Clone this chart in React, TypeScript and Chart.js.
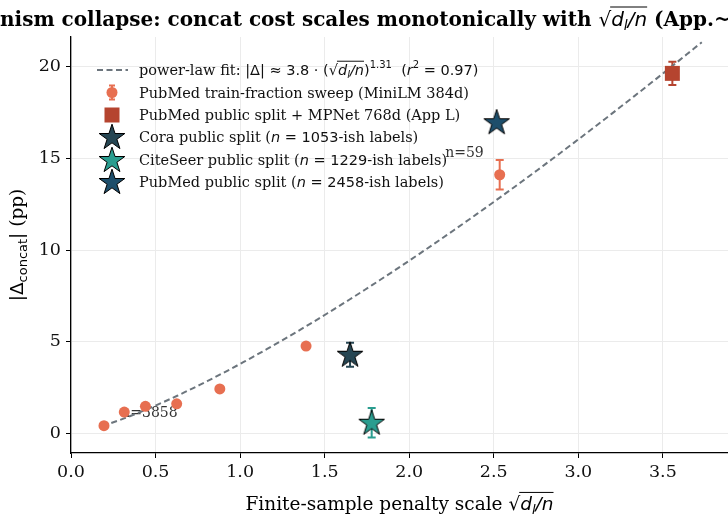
import React, { useEffect, useRef } from "react";
import { Chart, registerables } from "chart.js";
Chart.register(...registerables);

// ---- data ----
const sweepX = [0.195, 0.315, 0.44, 0.625, 0.88, 1.39, 2.535];
const sweepY = [0.44, 1.18, 1.49, 1.63, 2.44, 4.77, 14.1];
const sweepErr = [0, 0, 0, 0, 0, 0, 0.8];
const sweepLabels = ["", "n=3858", "", "", "", "", "n=59"];

const mpnetX = [3.556];
const mpnetY = [19.62];
const mpnetErr = [0.63];

const coraX = [1.65];
const coraY = [4.3];
const coraErr = [0.65];

const citeX = [1.778];
const citeY = [0.6];
const citeErr = [0.8];

const pubX = [2.517];
const pubY = [16.96];
const pubErr = [0];

const FIT_A = 3.8;
const FIT_B = 1.31;
const FIT_R2 = 0.97;
const fitRange = [0.185, 3.73];

const xTicks = [0, 0.5, 1, 1.5, 2, 2.5, 3, 3.5];
const yTicks = [0, 5, 10, 15, 20];

const C_SWEEP = "#e76f51";
const C_MPNET = "#b5442f";
const C_CORA = "#264653";
const C_CITE = "#2a9d8f";
const C_PUB = "#1d4e6b";
const C_FIT = "#6c757d";

const SERIF = '"DejaVu Serif", serif';
const SANS = '"DejaVu Sans", sans-serif';

function makeStar(color: string, size: number) {
  const c = document.createElement("canvas");
  c.width = size;
  c.height = size;
  const g = c.getContext("2d")!;
  const R = size / 2 - 1.5;
  const r = R * 0.382;
  const cx = size / 2;
  const cy = size / 2 + R * 0.05;
  g.beginPath();
  for (let i = 0; i < 10; i++) {
    const rad = i % 2 === 0 ? R : r;
    const a = -Math.PI / 2 + (i * Math.PI) / 5;
    const px = cx + rad * Math.cos(a);
    const py = cy + rad * Math.sin(a);
    if (i === 0) g.moveTo(px, py);
    else g.lineTo(px, py);
  }
  g.closePath();
  g.fillStyle = color;
  g.fill();
  g.lineWidth = 1;
  g.strokeStyle = "#000";
  g.stroke();
  return c;
}

type Seg = { t: string; f: string; dy?: number; ol?: boolean };

function richWidth(ctx: CanvasRenderingContext2D, segs: Seg[]) {
  let w = 0;
  for (const s of segs) {
    ctx.font = s.f;
    w += ctx.measureText(s.t).width;
  }
  return w;
}

function drawRich(
  ctx: CanvasRenderingContext2D,
  segs: Seg[],
  x: number,
  y: number,
  align: "left" | "center",
  olY: number
) {
  const total = richWidth(ctx, segs);
  let cx = align === "center" ? x - total / 2 : x;
  ctx.textAlign = "left";
  ctx.textBaseline = "alphabetic";
  let olStart: number | null = null;
  const flush = (end: number) => {
    ctx.save();
    ctx.lineWidth = 1;
    ctx.strokeStyle = ctx.fillStyle as string;
    ctx.beginPath();
    ctx.moveTo(olStart as number, y - olY);
    ctx.lineTo(end, y - olY);
    ctx.stroke();
    ctx.restore();
    olStart = null;
  };
  for (const s of segs) {
    ctx.font = s.f;
    const w = ctx.measureText(s.t).width;
    ctx.fillText(s.t, cx, y + (s.dy || 0));
    if (s.ol) {
      if (olStart === null) olStart = cx - 1;
    } else if (olStart !== null) {
      flush(cx);
    }
    cx += w;
  }
  if (olStart !== null) flush(cx);
}

function sqrtSegs(size: number): Seg[] {
  const it = `italic ${size}px ${SANS}`;
  const sub = `italic ${Math.round(size * 0.7)}px ${SANS}`;
  return [
    { t: "\u221A", f: `${size}px ${SANS}` },
    { t: "d", f: it, ol: true },
    { t: "l", f: sub, dy: size * 0.2, ol: true },
    { t: "/n", f: it, ol: true },
  ];
}

export default function App() {
  const ref = useRef<HTMLCanvasElement | null>(null);

  useEffect(() => {
    document.body.style.margin = "0";
    const canvas = ref.current!;
    const starCora = makeStar(C_CORA, 30);
    const starCite = makeStar(C_CITE, 30);
    const starPub = makeStar(C_PUB, 30);

    const fitData: { x: number; y: number }[] = [];
    const NF = 80;
    for (let i = 0; i <= NF; i++) {
      const x = fitRange[0] + ((fitRange[1] - fitRange[0]) * i) / NF;
      fitData.push({ x, y: FIT_A * Math.pow(x, FIT_B) });
    }
    const toPts = (xs: number[], ys: number[]) => xs.map((x, i) => ({ x, y: ys[i] }));

    const errGroups = [
      { xs: sweepX, ys: sweepY, es: sweepErr, c: C_SWEEP },
      { xs: mpnetX, ys: mpnetY, es: mpnetErr, c: C_MPNET },
      { xs: coraX, ys: coraY, es: coraErr, c: C_CORA },
      { xs: citeX, ys: citeY, es: citeErr, c: C_CITE },
      { xs: pubX, ys: pubY, es: pubErr, c: C_PUB },
    ];

    const overlay = {
      id: "overlay",
      beforeDatasetsDraw(chart: any) {
        const ctx: CanvasRenderingContext2D = chart.ctx;
        const xs = chart.scales.x;
        const ys = chart.scales.y;
        ctx.save();
        // annotations
        ctx.fillStyle = "#333";
        ctx.font = `14px ${SERIF}`;
        ctx.textBaseline = "alphabetic";
        sweepLabels.forEach((lab, i) => {
          if (!lab) return;
          const px = xs.getPixelForValue(sweepX[i]);
          const py = ys.getPixelForValue(sweepY[i]);
          if (sweepY[i] > 10) {
            ctx.textAlign = "right";
            ctx.fillText(lab, px - 16, py - 18);
          } else {
            ctx.textAlign = "left";
            ctx.fillText(lab, px - 3, py + 5);
          }
        });
        // error bars
        ctx.lineWidth = 2;
        for (const g of errGroups) {
          ctx.strokeStyle = g.c;
          g.xs.forEach((x, i) => {
            const e = g.es[i];
            if (!e) return;
            const px = xs.getPixelForValue(x);
            const y1 = ys.getPixelForValue(g.ys[i] + e);
            const y2 = ys.getPixelForValue(g.ys[i] - e);
            ctx.beginPath();
            ctx.moveTo(px, y1);
            ctx.lineTo(px, y2);
            ctx.moveTo(px - 4, y1);
            ctx.lineTo(px + 4, y1);
            ctx.moveTo(px - 4, y2);
            ctx.lineTo(px + 4, y2);
            ctx.stroke();
          });
        }
        ctx.restore();
      },
      afterDraw(chart: any) {
        const ctx: CanvasRenderingContext2D = chart.ctx;
        const area = chart.chartArea;
        ctx.save();
        ctx.fillStyle = "#000";
        // title
        const tsize = 20;
        const bold = `bold ${tsize}px ${SERIF}`;
        const titleSegs: Seg[] = [
          { t: "Mechanism collapse: concat cost scales monotonically with ", f: bold },
          ...sqrtSegs(tsize),
          { t: " (App.~", f: bold },
        ];
        ctx.font = bold;
        const pre = ctx.measureText("Mecha").width;
        drawRich(ctx, titleSegs, -pre, 26, "left", tsize * 0.95);

        // x title
        const lsize = 18.5;
        const xSegs: Seg[] = [
          { t: "Finite-sample penalty scale ", f: `${lsize}px ${SERIF}` },
          ...sqrtSegs(lsize),
        ];
        drawRich(ctx, xSegs, (area.left + area.right) / 2, 510, "center", lsize * 0.95);

        // y title
        ctx.save();
        ctx.translate(23, (area.top + area.bottom) / 2);
        ctx.rotate(-Math.PI / 2);
        const ySegs: Seg[] = [
          { t: "|\u0394", f: `${lsize}px ${SANS}` },
          { t: "concat", f: `${Math.round(lsize * 0.7)}px ${SANS}`, dy: lsize * 0.2 },
          { t: "|", f: `${lsize}px ${SANS}` },
          { t: " (pp)", f: `${lsize}px ${SERIF}` },
        ];
        drawRich(ctx, ySegs, 0, 0, "center", 0);
        ctx.restore();

        // legend
        const fs = 14.5;
        const serif = `${fs}px ${SERIF}`;
        const sans = `${fs}px ${SANS}`;
        const isans = `italic ${fs}px ${SANS}`;
        const small = `${Math.round(fs * 0.7)}px ${SANS}`;
        const tx = 139;
        const mx = 112;
        const rows = [70, 92.5, 115, 137, 160, 182];
        const legendText: Seg[][] = [
          [
            { t: "power-law fit: ", f: serif },
            { t: `|\u0394| \u2248 ${FIT_A.toFixed(1)} \u00B7 (`, f: sans },
            ...sqrtSegs(fs),
            { t: ")", f: sans },
            { t: FIT_B.toFixed(2), f: small, dy: -fs * 0.45 },
            { t: "  (", f: sans },
            { t: "r", f: isans },
            { t: "2", f: small, dy: -fs * 0.45 },
            { t: ` = ${FIT_R2.toFixed(2)})`, f: sans },
          ],
          [{ t: "PubMed train-fraction sweep (MiniLM 384d)", f: serif }],
          [{ t: "PubMed public split + MPNet 768d (App L)", f: serif }],
          [
            { t: "Cora public split (", f: serif },
            { t: "n", f: isans },
            { t: " = 1053", f: sans },
            { t: "-ish labels)", f: serif },
          ],
          [
            { t: "CiteSeer public split (", f: serif },
            { t: "n", f: isans },
            { t: " = 1229", f: sans },
            { t: "-ish labels)", f: serif },
          ],
          [
            { t: "PubMed public split (", f: serif },
            { t: "n", f: isans },
            { t: " = 2458", f: sans },
            { t: "-ish labels)", f: serif },
          ],
        ];
        ctx.fillStyle = "#111";
        legendText.forEach((segs, i) => {
          drawRich(ctx, segs, tx, rows[i] + 5, "left", fs * 0.95);
        });
        // legend markers
        ctx.strokeStyle = C_FIT;
        ctx.lineWidth = 2;
        ctx.setLineDash([6, 3.5]);
        ctx.beginPath();
        ctx.moveTo(97, rows[0]);
        ctx.lineTo(128, rows[0]);
        ctx.stroke();
        ctx.setLineDash([]);
        ctx.strokeStyle = C_SWEEP;
        ctx.beginPath();
        ctx.moveTo(mx, rows[1] - 7);
        ctx.lineTo(mx, rows[1] + 7);
        ctx.moveTo(mx - 3, rows[1] - 7);
        ctx.lineTo(mx + 3, rows[1] - 7);
        ctx.moveTo(mx - 3, rows[1] + 7);
        ctx.lineTo(mx + 3, rows[1] + 7);
        ctx.stroke();
        ctx.fillStyle = C_SWEEP;
        ctx.beginPath();
        ctx.arc(mx, rows[1], 5.5, 0, Math.PI * 2);
        ctx.fill();
        ctx.fillStyle = C_MPNET;
        ctx.fillRect(mx - 7.5, rows[2] - 7.5, 15, 15);
        ctx.drawImage(starCora, mx - 15, rows[3] - 15);
        ctx.drawImage(starCite, mx - 15, rows[4] - 15);
        ctx.drawImage(starPub, mx - 15, rows[5] - 15);
        ctx.restore();
      },
    };

    const chart = new Chart(canvas, {
      type: "scatter",
      data: {
        datasets: [
          {
            label: "fit",
            type: "line",
            data: fitData,
            borderColor: C_FIT,
            borderWidth: 2,
            borderDash: [6, 3.5],
            pointRadius: 0,
            fill: false,
            order: 10,
          } as any,
          {
            label: "sweep",
            data: toPts(sweepX, sweepY),
            backgroundColor: C_SWEEP,
            borderWidth: 0,
            pointRadius: 5.5,
            order: 3,
          },
          {
            label: "mpnet",
            data: toPts(mpnetX, mpnetY),
            backgroundColor: C_MPNET,
            borderWidth: 0,
            pointStyle: "rect",
            pointRadius: 10.6,
            order: 3,
          },
          {
            label: "cora",
            data: toPts(coraX, coraY),
            pointStyle: starCora as any,
            order: 2,
          },
          {
            label: "cite",
            data: toPts(citeX, citeY),
            pointStyle: starCite as any,
            order: 2,
          },
          {
            label: "pub",
            data: toPts(pubX, pubY),
            pointStyle: starPub as any,
            order: 2,
          },
        ],
      },
      options: {
        responsive: false,
        animation: false,
        devicePixelRatio: 1,
        layout: { autoPadding: false, padding: { top: 37, left: 0, right: 0, bottom: 0 } },
        font: { family: SERIF },
        plugins: {
          legend: { display: false },
          tooltip: { enabled: false },
          title: { display: false },
        },
        scales: {
          x: {
            type: "linear",
            min: 0,
            max: 3.885,
            afterFit(scale: any) {
              scale.height = 63;
              scale.paddingLeft = 0;
              scale.paddingRight = 0;
            },
            afterBuildTicks(scale: any) {
              scale.ticks = xTicks.map((v) => ({ value: v }));
            },
            grid: {
              color: "#ebebeb",
              lineWidth: 1,
              tickColor: "#000",
              tickLength: 5,
              drawTicks: true,
            },
            border: { display: true, color: "#000", width: 1.3 },
            ticks: {
              color: "#111",
              font: { family: SERIF, size: 17.5 },
              padding: 4,
              maxRotation: 0,
              callback: (v: any) => Number(v).toFixed(1),
            },
          },
          y: {
            type: "linear",
            min: -1.05,
            max: 21.6,
            afterFit(scale: any) {
              scale.width = 71;
              scale.paddingTop = 0;
              scale.paddingBottom = 0;
            },
            afterBuildTicks(scale: any) {
              scale.ticks = yTicks.map((v) => ({ value: v }));
            },
            grid: {
              color: "#ebebeb",
              lineWidth: 1,
              tickColor: "#000",
              tickLength: 5,
              drawTicks: true,
            },
            border: { display: true, color: "#000", width: 1.3 },
            ticks: {
              color: "#111",
              font: { family: SERIF, size: 17.5 },
              padding: 5,
              callback: (v: any) => String(v),
            },
          },
        },
      },
      plugins: [overlay],
    });
    return () => chart.destroy();
  }, []);

  return (
    <div style={{ width: 728, height: 516, background: "#fff" }}>
      <canvas ref={ref} width={728} height={516} style={{ display: "block" }} />
    </div>
  );
}
